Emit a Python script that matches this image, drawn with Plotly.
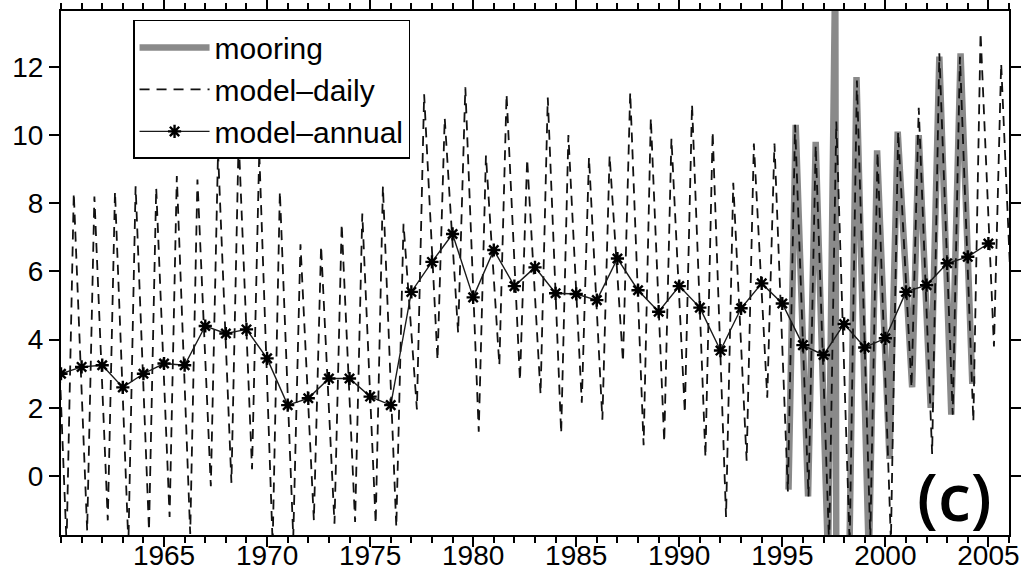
import plotly.graph_objects as go

# ---------------- data ----------------
years = list(range(1960, 2006))

# model-annual (star markers), one value per year
annual = [3.0, 3.2, 3.25, 2.6, 3.0, 3.3, 3.25, 4.4, 4.18, 4.3,
          3.45, 2.08, 2.28, 2.86, 2.86, 2.33, 2.08, 5.4, 6.28, 7.1,
          5.24, 6.63, 5.57, 6.12, 5.36, 5.34, 5.16, 6.38, 5.45, 4.82,
          5.57, 4.94, 3.68, 4.92, 5.65, 5.06, 3.84, 3.55, 4.46, 3.77,
          4.04, 5.4, 5.6, 6.24, 6.43, 6.82]

# model-daily: seasonal extremes read per year (trough early in year, peak later)
daily_trough = [-2.0, -1.6, -1.3, -2.0, -1.6, -1.2, -1.7, -0.3, -0.2, 0.2,
                -2.0, -1.8, -1.3, -1.4, -1.35, -1.4, -1.5, 1.95, 3.4, 4.2,
                1.3, 3.25, 2.8, 2.4, 1.25, 2.15, 1.65, 3.35, 0.9, 1.0,
                1.85, 0.55, -1.2, 0.45, 2.3, -0.45, -0.6, -2.0, -2.0, -1.8,
                -1.9, 2.6, 0.65, 1.8, 1.6, 3.8]
daily_peak = [8.3, 8.2, 8.35, 8.5, 8.45, 8.8, 8.7, 9.5, 9.9, 9.5,
              8.35, 6.8, 6.75, 7.4, 7.7, 8.5, 7.4, 11.2, 10.5, 11.4,
              9.4, 11.2, 9.3, 11.1, 10.0, 9.35, 9.4, 11.25, 10.5, 9.9,
              10.9, 10.1, 8.6, 9.75, 9.75, 10.3, 9.7, 10.4, 11.6, 9.5,
              10.1, 10.8, 12.4, 12.3, 13.0, 12.1]
trough_phase = 0.27
peak_phase = 0.62
daily_start = (1959.62, 8.0)   # extreme just before the axis start
daily_end = (2006.27, 3.0)     # extreme just after the axis end

# mooring record (turning points)
moor_t = [1995.30, 1995.65, 1996.25, 1996.62, 1997.22, 1997.57, 1997.62,
          1998.25, 1998.60, 1999.20, 1999.60, 2000.20, 2000.60, 2001.30,
          2001.62, 2002.20, 2002.62, 2003.20, 2003.65, 2004.22]
moor_v = [-0.4, 10.3, -0.6, 9.8, -2.5, 15.0, -3.0,
          -2.5, 11.7, -2.5, 9.55, 0.5, 10.1, 2.6,
          10.0, 2.0, 12.3, 1.8, 12.4, 2.7]

x_ticks = [1965, 1970, 1975, 1980, 1985, 1990, 1995, 2000, 2005]
y_ticks = [0, 2, 4, 6, 8, 10, 12]

# ---------------- build series ----------------
daily_t = [daily_start[0]]
daily_v = [daily_start[1]]
for yr, tr, pk in zip(years, daily_trough, daily_peak):
    daily_t += [yr + trough_phase, yr + peak_phase]
    daily_v += [tr, pk]
daily_t.append(daily_end[0])
daily_v.append(daily_end[1])

FONT = "Liberation Sans, Arial, Helvetica, sans-serif"

fig = go.Figure()
fig.add_trace(go.Scatter(
    x=moor_t, y=moor_v, mode="lines", name="mooring",
    line=dict(color="#8a8a8a", width=6.5)))
fig.add_trace(go.Scatter(
    x=daily_t, y=daily_v, mode="lines", name="model\u2013daily",
    line=dict(color="#111111", width=1.8, dash="10px,7px")))
fig.add_trace(go.Scatter(
    x=years, y=annual, mode="lines+markers", name="model\u2013annual",
    line=dict(color="#1a1a1a", width=1.4),
    marker=dict(symbol="asterisk", size=11, color="black",
                line=dict(color="black", width=2.4))))

fig.update_layout(
    width=1036, height=583,
    margin=dict(l=61, r=27, t=11, b=48),
    paper_bgcolor="white", plot_bgcolor="white",
    font=dict(family=FONT, size=28, color="black"),
    showlegend=True,
    legend=dict(x=0.076, y=0.983, xanchor="left", yanchor="top",
                bgcolor="white", bordercolor="black", borderwidth=1.5,
                font=dict(family=FONT, size=30, color="black"),
                itemwidth=70, tracegroupgap=0),
    xaxis=dict(range=[1960, 2006], tickmode="array", tickvals=x_ticks,
               ticks="outside", ticklen=10, tickwidth=1.5, tickcolor="black",
               showline=True, linewidth=2, linecolor="black", mirror="allticks",
               showgrid=False, zeroline=False, automargin=False,
               ticklabelstandoff=-16,
               minor=dict(dtick=1, tick0=1960, ticks="outside", ticklen=6,
                          tickwidth=1.5, tickcolor="black", showgrid=False),
               tickfont=dict(family=FONT, size=28, color="black")),
    yaxis=dict(range=[-1.73, 13.64], tickmode="array", tickvals=y_ticks,
               ticks="outside", ticklen=10, tickwidth=1.5, tickcolor="black",
               showline=True, linewidth=2, linecolor="black", mirror="allticks",
               showgrid=False, zeroline=False, automargin=False,
               tickfont=dict(family=FONT, size=28, color="black")),
    annotations=[dict(text="(c)", xref="paper", yref="paper",
                      x=0.943, y=0.076, xanchor="center", yanchor="middle",
                      showarrow=False,
                      font=dict(family="Open Sans, DejaVu Sans, sans-serif",
                                size=66, color="black", weight=600))],
)

fig.write_html("out.html")
